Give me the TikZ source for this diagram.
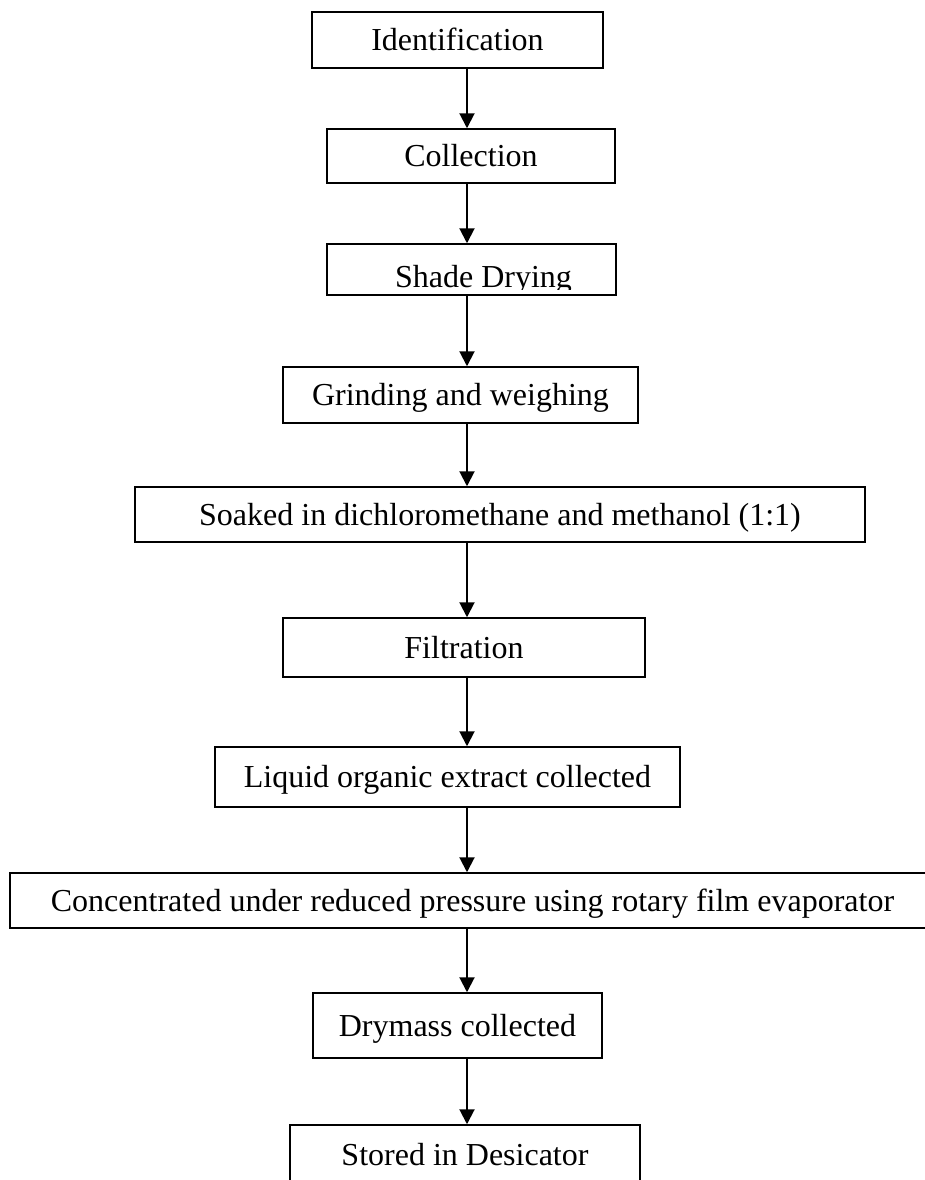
\documentclass[tikz,border=0pt]{standalone}
\usepackage{fontspec}
\setmainfont{Liberation Serif}
\usetikzlibrary{arrows.meta}

\begin{document}
\begin{tikzpicture}[x=0.5pt, y=-0.5pt, font=\fontsize{16}{19}\selectfont]
        % Define styles for shapes
        \tikzstyle{stepbox} = [draw, line width=0.75pt, inner sep=2pt, text height=10.5pt, text depth=0pt]
        \tikzstyle{flow} = [line width=1pt, -{Triangle[width=7.5pt, length=7.5pt]}]
        \useasboundingbox[fill=white] (0,0) rectangle (925,1180);
        \coordinate (axis) at (467,0);
        % Draw shapes
        \node[stepbox, minimum width=145.5pt, minimum height=28pt] (ident) at (457.5,40) {Identification\hspace{13.5pt}};
        \node[stepbox, minimum width=144pt, minimum height=27pt] (coll) at (471,156) {Collection};
        \node[stepbox, minimum width=144.5pt, minimum height=25.5pt] (shade) at (471.5,269.5) {};
        \begin{scope}
            \clip (shade.north west) rectangle ([yshift=3pt]shade.south east);
            \node[anchor=base] (shadetext) at (483.5,287) {Shade Drying};
        \end{scope}
        \node[stepbox, minimum width=177.5pt, minimum height=28pt] (grind) at (460.5,395) {Grinding and weighing};
        \node[stepbox, minimum width=365pt, minimum height=27.5pt] (soak) at (500,514.5) {Soaked in dichloromethane and methanol (1:1)};
        \node[stepbox, minimum width=181pt, minimum height=29.5pt] (filt) at (464,647.5) {Filtration};
        \node[stepbox, minimum width=232.5pt, minimum height=30pt] (liquid) at (447.5,777) {Liquid organic extract collected\hspace{8pt}};
        \node[stepbox, minimum width=462.5pt, minimum height=27.5pt] (conc) at (472.5,900.5) {Concentrated under reduced pressure using rotary film evaporator};
        \node[stepbox, minimum width=144.5pt, minimum height=32.5pt] (dry) at (457.5,1025.5) {Drymass collected};
        \node[stepbox, minimum width=175pt, minimum height=30pt] (stored) at (465,1155) {Stored in Desicator};

        % Draw arrows
        \draw[flow] (ident.south -| axis) -- (coll.north -| axis);
        \draw[flow] (coll.south -| axis) -- (shade.north -| axis);
        \draw[flow] (shade.south -| axis) -- (grind.north -| axis);
        \draw[flow] (grind.south -| axis) -- (soak.north -| axis);
        \draw[flow] (soak.south -| axis) -- (filt.north -| axis);
        \draw[flow] (filt.south -| axis) -- (liquid.north -| axis);
        \draw[flow] (liquid.south -| axis) -- (conc.north -| axis);
        \draw[flow] (conc.south -| axis) -- (dry.north -| axis);
        \draw[flow] (dry.south -| axis) -- (stored.north -| axis);
    \end{tikzpicture}
\end{document}
